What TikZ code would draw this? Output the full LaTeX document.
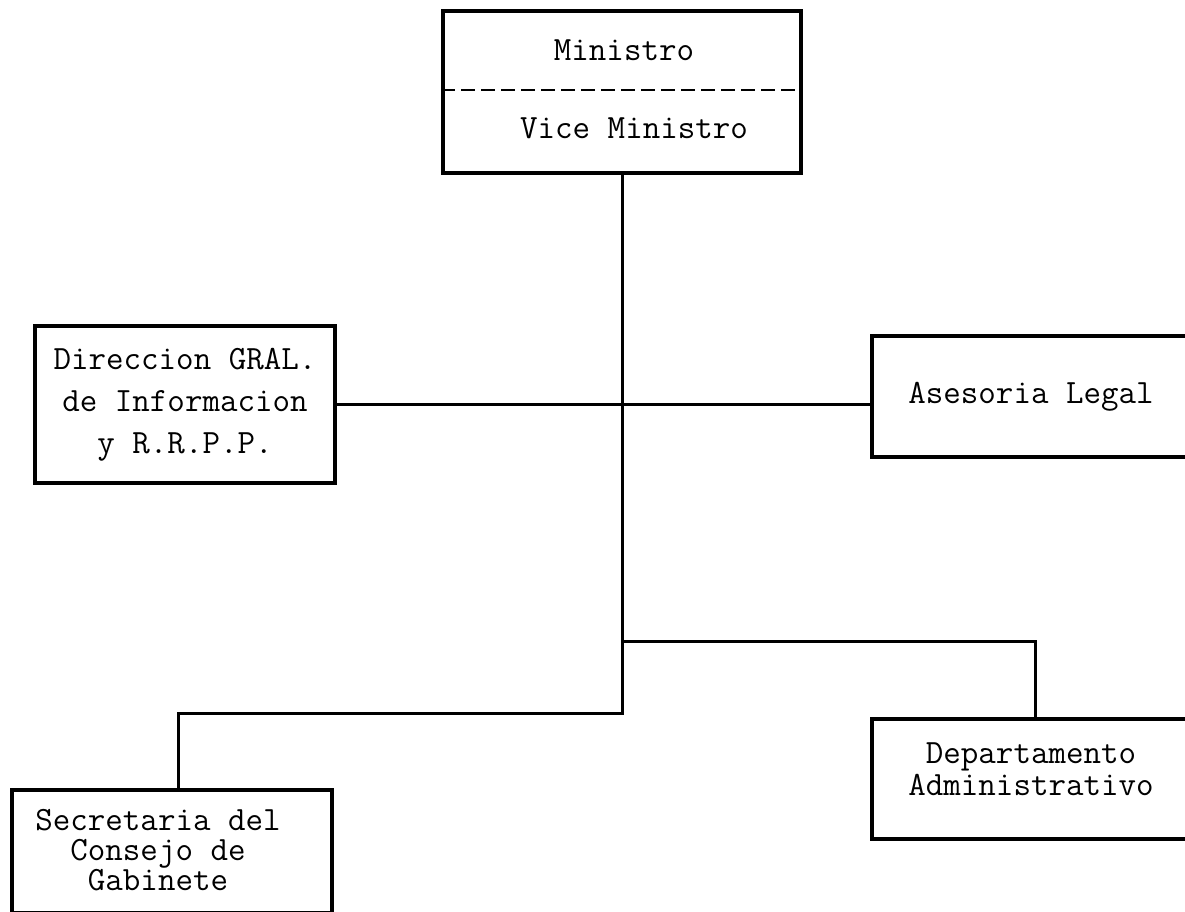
\documentclass[tikz,border=0pt]{standalone}
\usepackage{fontspec}
\usetikzlibrary{positioning,calc}
\tikzset{
  unit/.style={draw, line width=3.5pt, rectangle, inner sep=0pt},
  lbl/.style={font=\ttfamily\fontsize{34}{42}\selectfont, align=center, inner sep=0pt},
  link/.style={line width=3pt},
}

\begin{document}
\begin{tikzpicture}[x=1pt,y=-1pt]
\useasboundingbox (0,0) rectangle (1185,912);
\clip (0,0) rectangle (1185,912);

% minister / vice minister
\node[unit, minimum width=358pt, minimum height=162pt] (top) at (622,92) {};
\draw[line width=1.8pt, dash pattern=on 14pt off 6pt] ([yshift=2pt]top.west) -- ([yshift=2pt]top.east);
\node[lbl] (min) at (624,50) {Ministro};
\node[lbl] (vice) at (634,128) {Vice Ministro};

% side units
\node[unit, lbl, minimum width=300pt, minimum height=157pt] (dir) at (185,404.5)
  {Direccion GRAL.\\de Informacion\\y R.R.P.P.};
\node[unit, lbl, minimum width=326pt, minimum height=121pt] (ase) at (1035,396.5)
  {\hspace*{-8pt}Asesoria Legal};

% lower units
\node[unit, minimum width=326pt, minimum height=120pt] (dep) at (1035,779) {};
\node[lbl, font=\ttfamily\fontsize{34}{32}\selectfont] (deptxt) at (1031,769)
  {Departamento\\Administrativo};
\node[unit, minimum width=320pt, minimum height=123pt] (sec) at (172,851.5) {};
\node[lbl, font=\ttfamily\fontsize{34}{30}\selectfont] (sectxt) at (158,850)
  {Secretaria del\\Consejo de\\Gabinete};

% connectors
\coordinate (j) at (622,641);
\coordinate (k) at (178,713);
\draw[link] (top.south) |- (k) -- (k |- sec.north);
\draw[link] (j) -| (dep.north);
\draw[link] (dir.east) -- (dir.east -| ase.west);
\end{tikzpicture}
\end{document}
